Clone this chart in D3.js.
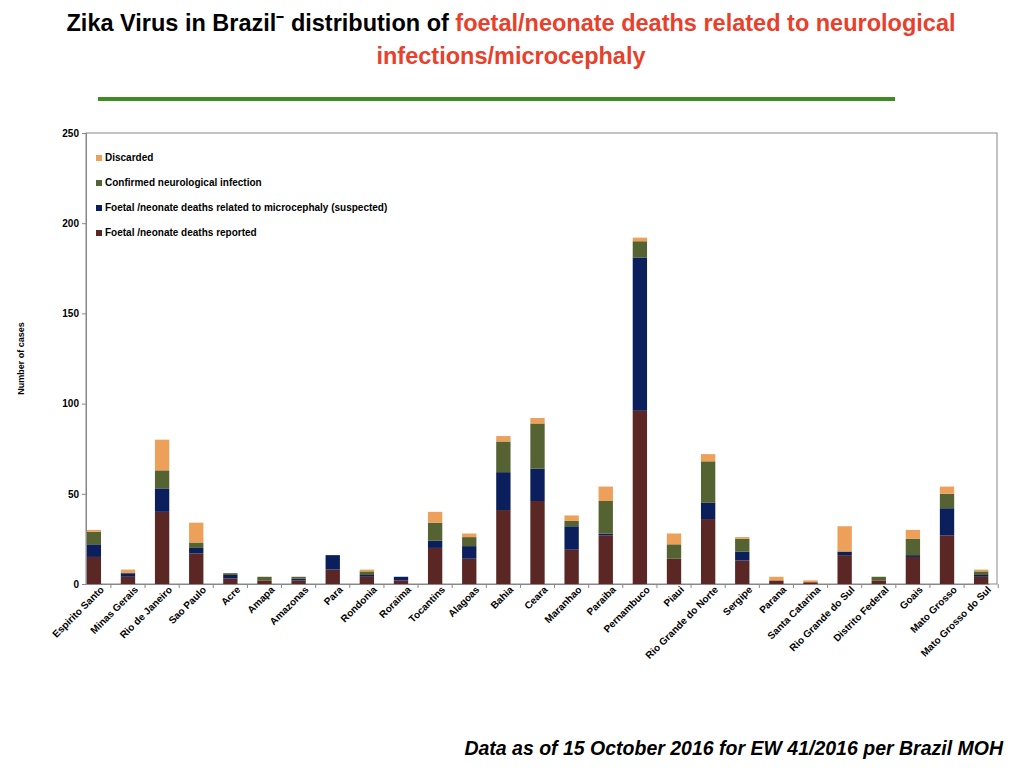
<!DOCTYPE html>
<html>
<meta charset="utf-8">
<style>
  body { margin: 0; background: #fff; font-family: "Liberation Sans", Arial, sans-serif; }
  .axis text { font-size: 10px; font-weight: bold; fill: #000; }
  .axis path, .axis line { stroke: #888; }
</style>
<body>
<script src="https://d3js.org/d3.v7.min.js"></script>
<script>
var states = ["Espirito Santo","Minas Gerais","Rio de Janeiro","Sao Paulo","Acre","Amapa","Amazonas","Para","Rondonia","Roraima","Tocantins","Alagoas","Bahia","Ceara","Maranhao","Paraiba","Pernambuco","Piaui","Rio Grande do Norte","Sergipe","Parana","Santa Catarina","Rio Grande do Sul","Distrito Federal","Goais","Mato Grosso","Mato Grosso do Sul"];
// segment sizes per state
var reported  = [15, 4, 40, 17, 3, 2, 2, 8, 4, 2, 20, 14, 41, 46, 19, 27, 96, 14, 36, 13, 2, 1, 16, 2, 15, 27, 4];
var suspected = [7, 2, 13, 3, 2, 0, 1, 8, 1, 2, 4, 7, 21, 18, 13, 1, 85, 0, 9, 5, 0, 0, 2, 0, 1, 15, 1];
var confirmed = [7, 0, 10, 3, 1, 2, 1, 0, 2, 0, 10, 5, 17, 25, 3, 18, 9, 8, 23, 7, 0, 0, 0, 2, 9, 8, 2];
var discarded = [1, 2, 17, 11, 0, 0, 0, 0, 1, 0, 6, 2, 3, 3, 3, 8, 2, 6, 4, 1, 2, 1, 14, 0, 5, 4, 1];
var yTicks = [0, 50, 100, 150, 200, 250];

var seriesKeys = ["reported", "suspected", "confirmed", "discarded"];
var seriesNames = ["Foetal /neonate deaths reported", "Foetal /neonate deaths related to microcephaly (suspected)", "Confirmed neurological  infection", "Discarded"];
var colors = ["#5a2725", "#0b1f5c", "#546331", "#eca05a"];

var rows = states.map(function(s, i) {
  return {state: s, reported: reported[i], suspected: suspected[i], confirmed: confirmed[i], discarded: discarded[i]};
});
var stacked = d3.stack().keys(seriesKeys)(rows);

var width = 1024, height = 768;
var margin = {top: 133, right: 27, bottom: 184, left: 86};

var svg = d3.select("body").append("svg").attr("width", width).attr("height", height);

// title
var title = svg.append("text").attr("x", 511).attr("y", 31).attr("text-anchor", "middle")
  .style("font-size", "23.5px").style("font-weight", "bold");
title.append("tspan").attr("fill", "#000").text("Zika Virus in Brazil\u207B  distribution of ");
title.append("tspan").attr("fill", "#e8402b").text("foetal/neonate deaths related to neurological");
svg.append("text").attr("x", 511).attr("y", 64).attr("text-anchor", "middle")
  .style("font-size", "23.5px").style("font-weight", "bold").attr("fill", "#e8402b")
  .text("infections/microcephaly");
svg.append("line").attr("x1", 98).attr("x2", 895).attr("y1", 99).attr("y2", 99)
  .attr("stroke", "#3f8c26").attr("stroke-width", 4);

var x = d3.scaleBand().domain(states).range([margin.left, width - margin.right - 8]).paddingInner(0.58).paddingOuter(0.02);
var y = d3.scaleLinear().domain([0, 250]).range([height - margin.bottom, margin.top]);

// frame
svg.append("rect").attr("x", margin.left).attr("y", margin.top)
  .attr("width", width - margin.left - margin.right).attr("height", height - margin.top - margin.bottom)
  .attr("fill", "none").attr("stroke", "#888");

svg.append("g").selectAll("g").data(stacked).enter().append("g")
  .attr("fill", function(d, i) { return colors[i]; })
  .selectAll("rect").data(function(d) { return d; }).enter().append("rect")
  .attr("x", function(d) { return x(d.data.state); })
  .attr("width", x.bandwidth())
  .attr("y", function(d) { return y(d[1]); })
  .attr("height", function(d) { return y(d[0]) - y(d[1]); });

svg.append("g").attr("class", "axis").attr("transform", "translate(" + margin.left + ",0)")
  .call(d3.axisLeft(y).tickValues(yTicks).tickSize(4));

var xAxis = svg.append("g").attr("class", "axis").attr("transform", "translate(0," + (height - margin.bottom) + ")")
  .call(d3.axisBottom(x).tickSize(0));
xAxis.selectAll("text").attr("text-anchor", "end").attr("dx", "0.3em").attr("dy", "0.9em")
  .attr("transform", "rotate(-45)");
// tick marks between categories
var step = x.step();
xAxis.selectAll(".sep").data(states).enter().append("line")
  .attr("x1", function(d) { return x(d) + x.bandwidth() / 2 + step / 2; })
  .attr("x2", function(d) { return x(d) + x.bandwidth() / 2 + step / 2; })
  .attr("y1", 0).attr("y2", 4).attr("stroke", "#888");

svg.append("text").attr("transform", "translate(24," + ((margin.top + height - margin.bottom) / 2) + ") rotate(-90)")
  .attr("text-anchor", "middle").style("font-size", "9px").style("font-weight", "bold").text("Number of cases");

// legend, top first
var legend = svg.append("g").attr("transform", "translate(96,160)");
[3, 2, 1, 0].forEach(function(k, i) {
  var g = legend.append("g").attr("transform", "translate(0," + (i * 25) + ")");
  g.append("rect").attr("x", 0).attr("y", -5).attr("width", 6).attr("height", 6).attr("fill", colors[k]);
  g.append("text").attr("x", 9).attr("y", 1).style("font-size", "10px").style("font-weight", "bold").text(seriesNames[k]);
});

svg.append("text").attr("x", 1003).attr("y", 755).attr("text-anchor", "end")
  .style("font-size", "19.5px").style("font-weight", "bold").style("font-style", "italic")
  .text("Data as of 15 October 2016 for EW 41/2016 per Brazil MOH");
</script>
</body>
</html>
